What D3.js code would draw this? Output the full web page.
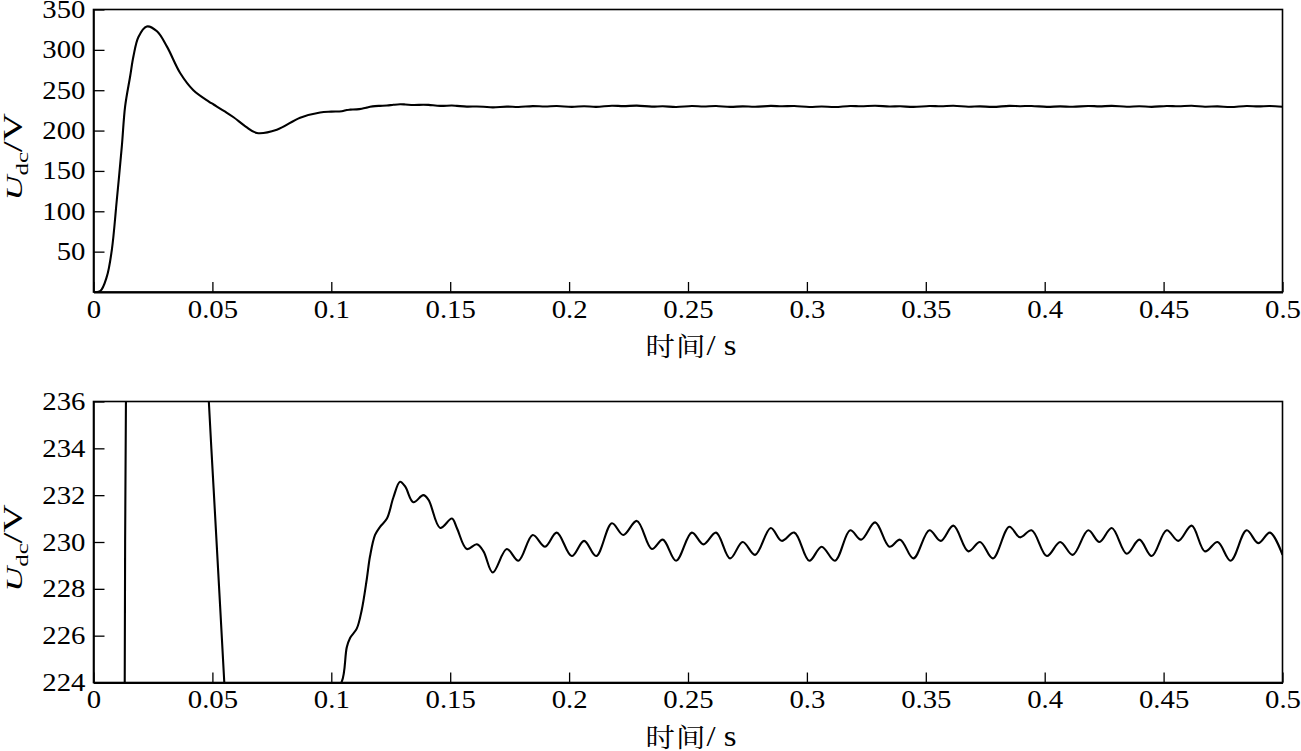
<!DOCTYPE html>
<html>
<head>
<meta charset="utf-8">
<script src="https://cdn.jsdelivr.net/npm/d3@7"></script>
<style>
  body { margin: 0; background: #fff; }
</style>
</head>
<body>
<div id="chart"></div>
<script>
////////////////////////////////////////////////////
// DC-link voltage Udc vs time (same signal, two zoom levels)
////////////////////////////////////////////////////
var timeVals = [
  0, 0.0028, 0.0056, 0.0077, 0.0098, 0.0119, 0.0133, 0.0154, 0.0168, 0.0189,
  0.0224, 0.0267, 0.0309, 0.0365, 0.042, 0.0485, 0.0505, 0.055, 0.0589, 0.064,
  0.0687, 0.0771, 0.0869, 0.0953, 0.1, 0.1044, 0.1065, 0.1079, 0.1107, 0.1128,
  0.1149, 0.1163, 0.1184, 0.1205, 0.1234, 0.1261, 0.1289, 0.1311, 0.1345, 0.1387,
  0.1409, 0.1458, 0.1507, 0.1528, 0.157, 0.1612, 0.164, 0.1679, 0.1738, 0.1787,
  0.1847, 0.1899, 0.1948, 0.2011, 0.2063, 0.2114, 0.218, 0.2228, 0.2285, 0.2348,
  0.2394, 0.245, 0.2516, 0.2565, 0.2618, 0.2677, 0.273, 0.2782, 0.2848, 0.2894,
  0.2947, 0.301, 0.3062, 0.3118, 0.3182, 0.3228, 0.3287, 0.3347, 0.3392, 0.3448,
  0.3515, 0.3563, 0.3616, 0.3679, 0.3728, 0.3782, 0.3851, 0.3896, 0.3945, 0.4009,
  0.4065, 0.4118, 0.4183, 0.423, 0.4282, 0.4345, 0.4398, 0.445, 0.4513, 0.4562,
  0.4618, 0.4674, 0.4727, 0.4782, 0.4849, 0.4898, 0.4947, 0.5
];
var udcVals = [
  0, 1, 19, 52, 114, 180, 230, 267, 292, 316,
  329, 323, 304, 271, 250, 236, 232.3, 224, 216.5, 205,
  197, 201, 216, 222.5, 223.5, 224.04, 225.5, 225.9, 226.3, 227.1,
  228.4, 229.4, 230.3, 230.65, 231.0, 231.9, 232.57, 232.36, 231.7, 232.0,
  231.8, 230.6, 231.0, 230.6, 229.7, 229.9, 229.6, 228.7, 229.7, 229.2,
  230.3, 229.8, 230.4, 229.4, 230.05, 229.4, 230.8, 230.3, 230.9, 229.7,
  230.1, 229.2, 230.4, 229.9, 230.4, 229.3, 230.0, 229.45, 230.6, 230.05,
  230.4, 229.2, 229.8, 229.2, 230.5, 230.1, 230.84, 229.8, 230.1, 229.3,
  230.5, 230.05, 230.7, 229.6, 230.0, 229.3, 230.65, 230.2, 230.5, 229.4,
  230.0, 229.45, 230.5, 230.0, 230.6, 229.5, 230.1, 229.4, 230.5, 230.05,
  230.7, 229.6, 230.0, 229.2, 230.5, 229.95, 230.4, 229.45
];

var xTicks = [0, 0.05, 0.1, 0.15, 0.2, 0.25, 0.3, 0.35, 0.4, 0.45, 0.5];
var yTicksTop = [50, 100, 150, 200, 250, 300, 350];
var yTicksBottom = [224, 226, 228, 230, 232, 234, 236];
var xLabelCn = "时间";
var xLabelUnit = "/ s";

var SERIF = "'Liberation Serif', 'Times New Roman', serif";
var CJK = "'Noto Serif CJK SC', 'Noto Sans CJK SC', serif";

var W = 1301, H = 751;
var left = 93.5, right = 1282.5;

var panels = [
  {id: "top", top: 9.5, bottom: 292, yDomain: [0, 350], yTicks: yTicksTop},
  {id: "bot", top: 401.5, bottom: 682.5, yDomain: [224, 236], yTicks: yTicksBottom}
];

var data = timeVals.map(function(t, i) { return {t: t, v: udcVals[i]}; });

var svg = d3.select("#chart").append("svg")
  .attr("width", W)
  .attr("height", H);

var x = d3.scaleLinear().domain([0, 0.5]).range([left, right]);

panels.forEach(function(p) {
  var y = d3.scaleLinear().domain(p.yDomain).range([p.bottom, p.top]);
  var g = svg.append("g");

  g.append("clipPath").attr("id", "clip_" + p.id)
    .append("rect")
      .attr("x", left).attr("y", p.top)
      .attr("width", right - left).attr("height", p.bottom - p.top);

  // curve
  var line = d3.line()
    .x(function(d) { return x(d.t); })
    .y(function(d) { return y(d.v); })
    .curve(d3.curveCatmullRom.alpha(0.5));

  g.append("path")
    .datum(data)
    .attr("clip-path", "url(#clip_" + p.id + ")")
    .attr("fill", "none")
    .attr("stroke", "#000")
    .attr("stroke-width", 2.1)
    .attr("stroke-linejoin", "round")
    .attr("d", line);

  // frame
  g.append("rect")
    .attr("x", left).attr("y", p.top)
    .attr("width", right - left).attr("height", p.bottom - p.top)
    .attr("fill", "none")
    .attr("stroke", "#000")
    .attr("stroke-width", 1.6);

  // x axis, inward ticks
  var xAxis = d3.axisBottom(x)
    .tickValues(xTicks)
    .tickSizeInner(-10)
    .tickSizeOuter(0)
    .tickPadding(8)
    .tickFormat(function(d) { return d === 0 ? "0" : String(+d.toFixed(2)); });
  var gx = g.append("g")
    .attr("transform", "translate(0," + p.bottom + ")")
    .call(xAxis);
  gx.select(".domain").attr("stroke", "#000").attr("stroke-width", 2);
  gx.selectAll(".tick line").attr("stroke", "#000").attr("stroke-width", 1.3);
  gx.selectAll(".tick text")
    .attr("fill", "#000")
    .attr("transform", "scale(1.15,1)")
    .style("font-size", "25px")
    .style("font-family", SERIF);

  // y axis, inward ticks
  var yAxis = d3.axisLeft(y)
    .tickValues(p.yTicks)
    .tickSizeInner(-11)
    .tickSizeOuter(0)
    .tickPadding(7);
  var gy = g.append("g")
    .attr("transform", "translate(" + left + ",0)")
    .call(yAxis);
  gy.select(".domain").attr("stroke", "#000").attr("stroke-width", 1.6);
  gy.selectAll(".tick line").attr("stroke", "#000").attr("stroke-width", 1.3);
  gy.selectAll(".tick text")
    .attr("fill", "#000")
    .attr("transform", "scale(1.15,1)")
    .style("font-size", "25px")
    .style("font-family", SERIF);

  // x label  时间/s
  var xl = g.append("text")
    .attr("transform", "translate(691," + (p.bottom + 53) + ") scale(1.13,1)")
    .attr("dominant-baseline", "central")
    .attr("text-anchor", "middle")
    .style("font-size", "26px")
    .style("font-family", SERIF);
  xl.append("tspan").style("font-family", CJK).attr("letter-spacing", 1).text(xLabelCn);
  xl.append("tspan").style("font-size", "29px").attr("xml:space", "preserve").text(xLabelUnit);

  // y label  U_dc / V
  var yl = g.append("text")
    .attr("transform", "translate(21.5," + ((p.top + p.bottom) / 2 + 6) + ") rotate(-90) scale(1.45,1)")
    .attr("text-anchor", "middle")
    .style("font-size", "24px")
    .style("font-family", SERIF);
  yl.append("tspan").style("font-style", "italic").text("U");
  yl.append("tspan").style("font-size", "17px").attr("dy", 6).text("dc");
  yl.append("tspan").style("font-size", "27px").attr("dy", -6).text("/V");
});
</script>
</body>
</html>
